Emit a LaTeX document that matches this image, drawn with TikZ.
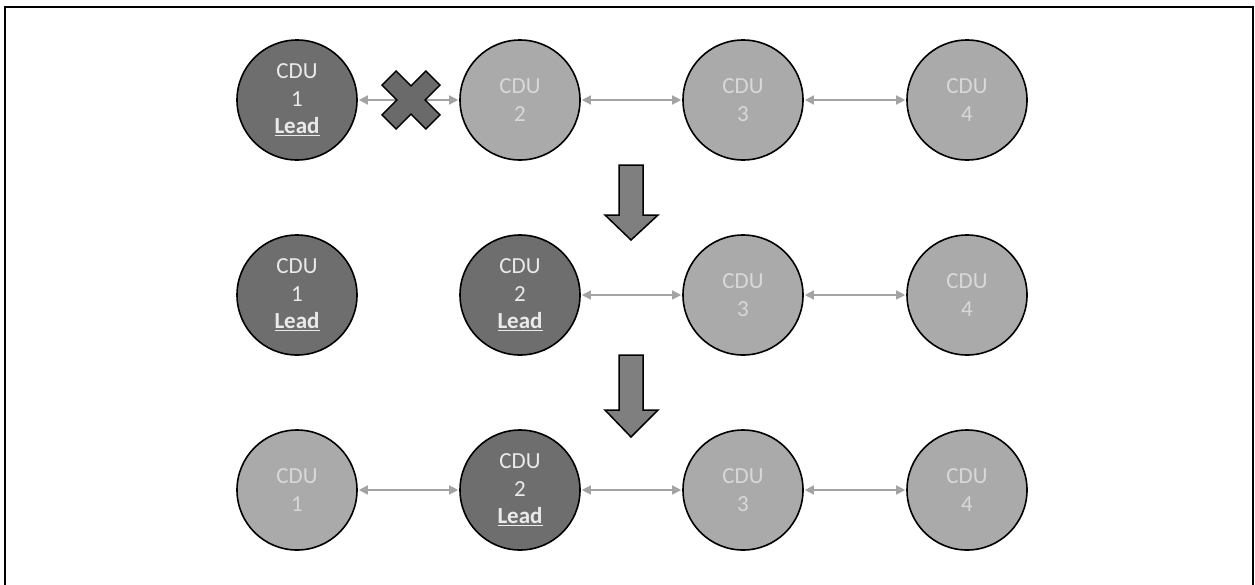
\documentclass[tikz,border=0pt]{standalone}
\usepackage{fontspec}
\setmainfont{Carlito}
\usetikzlibrary{arrows.meta}
\definecolor{darkfill}{HTML}{6E6E6E}
\definecolor{lightfill}{HTML}{AAAAAA}
\definecolor{darktext}{HTML}{EAEAEA}
\definecolor{lighttext}{HTML}{D8D8D8}
\definecolor{linkgray}{HTML}{A3A3A3}
\definecolor{arrowfill}{HTML}{7F7F7F}
\definecolor{xfill}{HTML}{6A6A6A}
\tikzset{
  cdu/.style={circle, draw=black, line width=1.6pt, minimum size=120pt, inner sep=0pt,
    align=center, font=\fontsize{23}{27.5}\selectfont},
  cdudark/.style={cdu, fill=darkfill, text=darktext},
  cdulight/.style={cdu, fill=lightfill, text=lighttext},
  link/.style={draw=linkgray, line width=1.4pt, {Triangle[length=9pt,width=9pt]}-{Triangle[length=9pt,width=9pt]}, shorten <=1pt, shorten >=1pt},
  downarrow/.style={fill=arrowfill, draw=black, line width=1.5pt, line join=miter},
  crossmark/.style={fill=xfill, draw=black, line width=1.5pt, line join=miter},
  frame/.style={draw=black, line width=2pt}
}
\newcommand{\leadtxt}{\underline{\textbf{Lead}}}
\begin{document}
\begin{tikzpicture}[x=1pt,y=-1pt]
\useasboundingbox (0,0) rectangle (1255,584);
\draw[frame] (5,590) -- (5,7) -- (1253,7) -- (1253,590);
% row 1
\node[cdudark]  (r1a) at (297,100) {CDU\\1\\\leadtxt};
\node[cdulight] (r1b) at (520,100) {CDU\\2};
\node[cdulight] (r1c) at (743,100) {CDU\\3};
\node[cdulight] (r1d) at (967,100) {CDU\\4};
% row 2
\node[cdudark]  (r2a) at (297,295) {CDU\\1\\\leadtxt};
\node[cdudark]  (r2b) at (520,295) {CDU\\2\\\leadtxt};
\node[cdulight] (r2c) at (743,295) {CDU\\3};
\node[cdulight] (r2d) at (967,295) {CDU\\4};
% row 3
\node[cdulight] (r3a) at (297,490) {CDU\\1};
\node[cdudark]  (r3b) at (520,490) {CDU\\2\\\leadtxt};
\node[cdulight] (r3c) at (743,490) {CDU\\3};
\node[cdulight] (r3d) at (967,490) {CDU\\4};
% links
\draw[link] (r1a) -- (r1b);
\draw[link] (r1b) -- (r1c);
\draw[link] (r1c) -- (r1d);
\draw[link] (r2b) -- (r2c);
\draw[link] (r2c) -- (r2d);
\draw[link] (r3a) -- (r3b);
\draw[link] (r3b) -- (r3c);
\draw[link] (r3c) -- (r3d);
% broken-link cross
\begin{scope}[shift={(411,100)}, rotate=45]
\draw[crossmark] (10,31) -- (-10,31) -- (-10,10) -- (-31,10) -- (-31,-10) -- (-10,-10)
  -- (-10,-31) -- (10,-31) -- (10,-10) -- (31,-10) -- (31,10) -- (10,10) -- cycle;
\end{scope}
% down arrows
\draw[downarrow] (619,165) -- (643,165) -- (643,215) -- (658,215) -- (631,240)
  -- (605,215) -- (619,215) -- cycle;
\draw[downarrow] (619,355) -- (643,355) -- (643,410) -- (658,410) -- (631,437)
  -- (605,410) -- (619,410) -- cycle;
\end{tikzpicture}
\end{document}
